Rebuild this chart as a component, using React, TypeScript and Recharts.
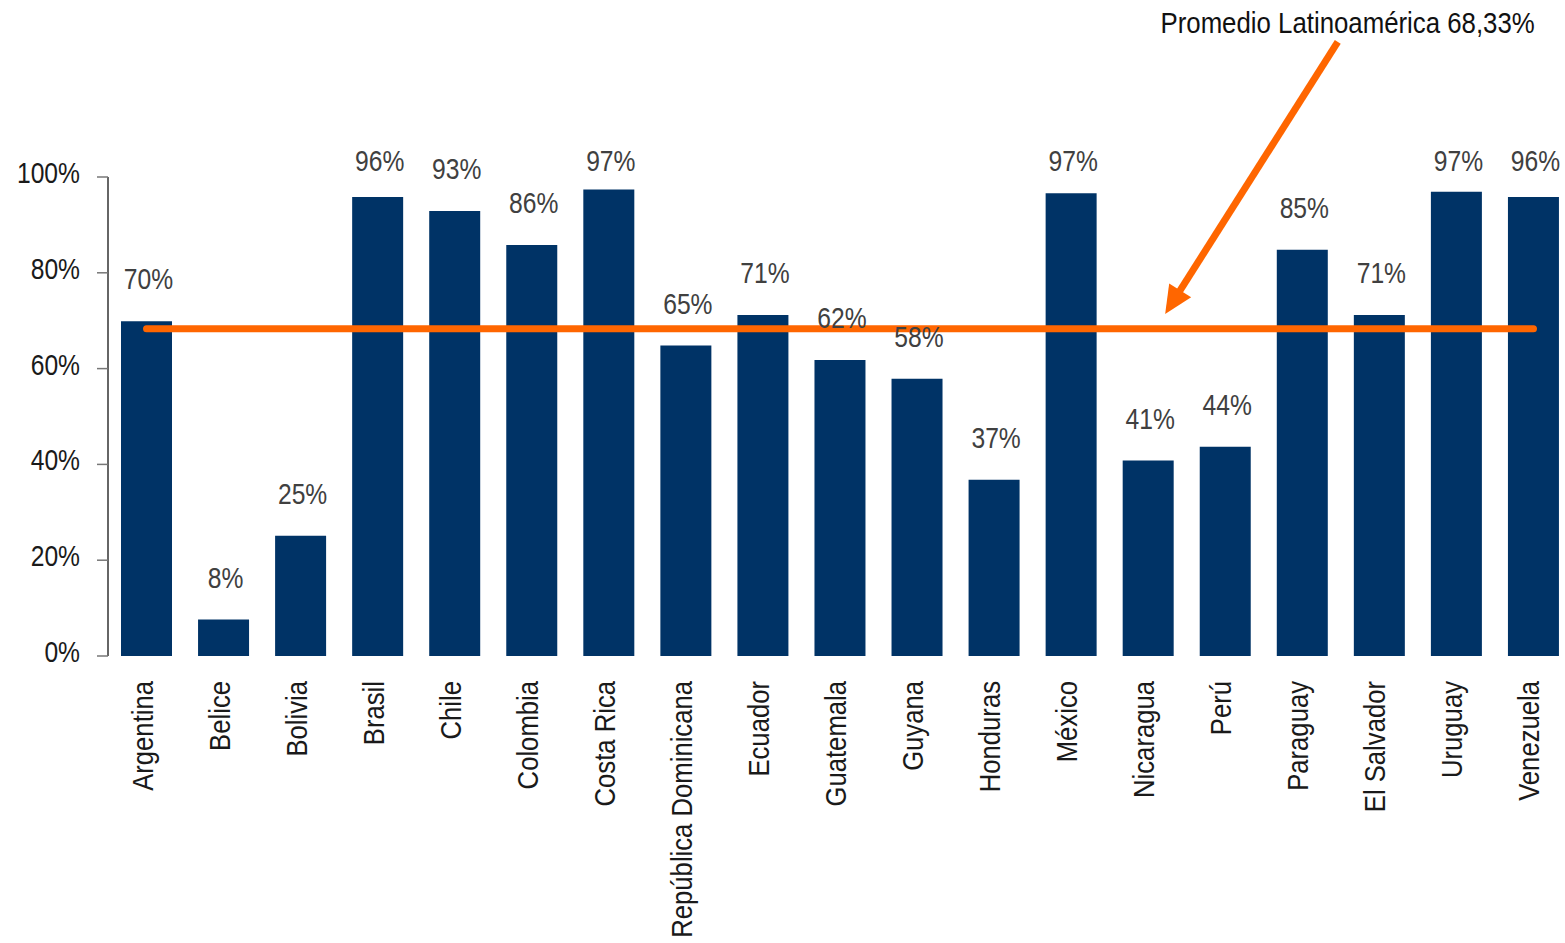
import React from 'react';
import { ComposedChart, Bar, XAxis, YAxis, ReferenceLine, LabelList } from 'recharts';

const countries = ['Argentina', 'Belice', 'Bolivia', 'Brasil', 'Chile', 'Colombia', 'Costa Rica', 'República Dominicana', 'Ecuador', 'Guatemala', 'Guyana', 'Honduras', 'México', 'Nicaragua', 'Perú', 'Paraguay', 'El Salvador', 'Uruguay', 'Venezuela'];
const coverage = [69.9, 7.6, 25.1, 95.8, 92.9, 85.8, 97.4, 64.8, 71.2, 61.8, 57.9, 36.8, 96.6, 40.8, 43.7, 84.8, 71.2, 96.9, 95.8];
const yTicks = [0, 20, 40, 60, 80, 100];
const averageValue = 68.33;
const averageLabel = 'Promedio Latinoamérica 68,33%';
// annotation arrow in data units (x on a 0..19 position scale, y in %)
const arrowStart = { x: 15.96, y: 128.2 };
const arrowEnd = { x: 13.72, y: 71.4 };

const data = countries.map((c, i) => ({ country: c, value: coverage[i], pos: i + 0.5 }));

const FONT = '"Liberation Sans", Arial, sans-serif';
const NAVY = '#003366';
const ORANGE = '#FF6600';
const SX = 0.885;

const XTick = (props: any) => {
  const { x, y, payload } = props;
  return (
    <text transform={`translate(${x}, ${y}) rotate(-90) scale(${SX}, 1)`} x={0} y={0} dy={6} textAnchor="end"
      fontFamily={FONT} fontSize={29} fill="#1a1a1a">
      {payload.value}
    </text>
  );
};

const YTick = (props: any) => {
  const { x, y, payload } = props;
  return (
    <text transform={`translate(${x}, ${y}) scale(0.85, 1)`} x={0} y={0} dy={6} textAnchor="end"
      fontFamily={FONT} fontSize={29} fill="#1a1a1a">
      {`${payload.value}%`}
    </text>
  );
};

const BarLabel = (props: any) => {
  const { x, y, width, value } = props;
  const baseline = Math.max(Number(y) - 32, 171);
  const cx = Number(x) + Number(width) / 2 + 2;
  return (
    <text transform={`translate(${cx}, ${baseline}) scale(0.85, 1)`} x={0} y={0} textAnchor="middle"
      fontFamily={FONT} fontSize={29} fill="#404040">
      {`${Math.round(Number(value))}%`}
    </text>
  );
};

const ArrowShape = (p: any) => {
  const { x1, y1, x2, y2 } = p;
  const dx = x2 - x1;
  const dy = y2 - y1;
  const len = Math.hypot(dx, dy) || 1;
  const ux = dx / len;
  const uy = dy / len;
  const hl = 28;
  const hw = 13;
  const bx = x2 - ux * hl;
  const by = y2 - uy * hl;
  const px = -uy;
  const py = ux;
  return (
    <g>
      <line x1={x1} y1={y1} x2={bx + ux * 3} y2={by + uy * 3} stroke={ORANGE} strokeWidth={7} />
      <polygon points={`${x2},${y2} ${bx + px * hw},${by + py * hw} ${bx - px * hw},${by - py * hw}`} fill={ORANGE} />
      <text transform={`translate(${x1 + 197}, ${y1 - 9}) scale(0.89, 1)`} x={0} y={0} textAnchor="end"
        fontFamily={FONT} fontSize={29} fill="#111">
        {averageLabel}
      </text>
    </g>
  );
};

const AvgShape = (p: any) => {
  const { x1, y1, x2, y2 } = p;
  return <line x1={x1} y1={y1} x2={x2} y2={y2} stroke={ORANGE} strokeWidth={7} strokeLinecap="round" />;
};

export default function App() {
  return (
    <div style={{ position: 'absolute', left: 0, top: 0, width: 1565, height: 943, overflow: 'hidden', background: '#fff' }}>
      <ComposedChart width={1580} height={943} data={data}
        margin={{ top: 177, right: 8, bottom: 7, left: 0 }}>
        <XAxis dataKey="country" interval={0} axisLine={false} tickLine={false}
          height={280} tick={<XTick />} tickMargin={19} />
        <XAxis xAxisId="ann" dataKey="pos" type="number" domain={[0, 19]} hide allowDataOverflow />
        <YAxis domain={[0, 100]} ticks={yTicks} width={108} tickSize={11} tickMargin={17}
          axisLine={{ stroke: '#333', strokeWidth: 1.5 }} tickLine={{ stroke: '#777', strokeWidth: 1.5 }}
          tick={<YTick />} allowDataOverflow />
        <Bar dataKey="value" fill={NAVY} barSize={51} isAnimationActive={false}>
          <LabelList dataKey="value" content={<BarLabel />} />
        </Bar>
        <ReferenceLine segment={[{ x: countries[0], y: averageValue }, { x: countries[countries.length - 1], y: averageValue }]}
          ifOverflow="visible" shape={AvgShape} />
        <ReferenceLine xAxisId="ann" segment={[arrowStart, arrowEnd]} ifOverflow="visible" shape={ArrowShape} />
      </ComposedChart>
    </div>
  );
}
